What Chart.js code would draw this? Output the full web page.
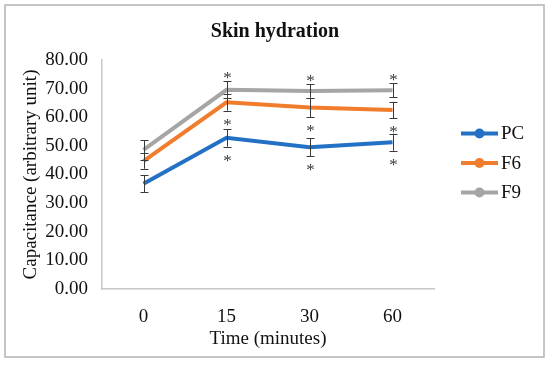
<!DOCTYPE html>
<html>
<head>
<meta charset="utf-8">
<script src="https://cdn.jsdelivr.net/npm/chart.js@4.4.1/dist/chart.umd.min.js"></script>
<style>
  html, body { margin: 0; padding: 0; background: #fff; }
  #wrap { width: 550px; height: 366px; }
</style>
</head>
<body>
<div id="wrap"><canvas id="myChart" width="550" height="366"></canvas></div>
<script>
// time points (minutes)
const categories = ['0', '15', '30', '60'];

// mean capacitance per series
const pcValues = [36.8, 52.8, 49.5, 51.3];
const f6Values = [44.7, 65.2, 63.4, 62.5];
const f9Values = [48.6, 69.6, 69.2, 69.4];

// error bar half-length (+/-)
const pcErrors = [3.0, 3.1, 3.1, 3.0];
const f6Errors = [2.7, 2.9, 3.3, 2.9];
const f9Errors = [3.4, 3.0, 2.4, 2.5];

// significance asterisks: 'above', 'below' or ''
const pcStars = ['', 'below', 'below', 'below'];
const f6Stars = ['', 'below', 'below', 'below'];
const f9Stars = ['', 'above', 'above', 'above'];

const yTicks = [0, 10, 20, 30, 40, 50, 60, 70, 80];

const chartTitle = 'Skin hydration';
const serif = '"Liberation Serif", "Times New Roman", serif';

const errorBars = {
    id: 'errorBars',
    afterDatasetsDraw(chart) {
        const ctx = chart.ctx;
        const y = chart.scales.y;
        ctx.save();
        ctx.strokeStyle = '#3a3a3a';
        ctx.fillStyle = '#3a3a3a';
        ctx.lineWidth = 1;
        ctx.font = '17px ' + serif;
        ctx.textAlign = 'center';
        ctx.textBaseline = 'alphabetic';
        chart.data.datasets.forEach((ds, i) => {
            const meta = chart.getDatasetMeta(i);
            meta.data.forEach((pt, j) => {
                const v = ds.data[j];
                const e = ds.errors[j];
                const yTop = y.getPixelForValue(v + e);
                const yBot = y.getPixelForValue(v - e);
                const x = Math.round(pt.x) + 0.5;
                ctx.beginPath();
                ctx.moveTo(x, yTop);
                ctx.lineTo(x, yBot);
                ctx.moveTo(x - 4, Math.round(yTop) + 0.5);
                ctx.lineTo(x + 4, Math.round(yTop) + 0.5);
                ctx.moveTo(x - 4, Math.round(yBot) + 0.5);
                ctx.lineTo(x + 4, Math.round(yBot) + 0.5);
                ctx.stroke();
                const s = ds.stars[j];
                if (s === 'above') {
                    ctx.fillText('*', x, yTop + 2);
                } else if (s === 'below') {
                    ctx.fillText('*', x, yBot + 19);
                }
            });
        });
        ctx.restore();
    }
};

const sideParts = {
    id: 'sideParts',
    afterDraw(chart) {
        const ctx = chart.ctx;
        ctx.save();
        // outer frame
        ctx.strokeStyle = '#b3b3b3';
        ctx.lineWidth = 1.5;
        ctx.strokeRect(5, 5, 539, 352);
        // title
        ctx.fillStyle = '#111';
        ctx.font = 'bold 20px ' + serif;
        ctx.textAlign = 'center';
        ctx.textBaseline = 'middle';
        ctx.fillText(chartTitle, 275, 32);
        // legend
        ctx.font = '19px ' + serif;
        ctx.textAlign = 'left';
        chart.data.datasets.forEach((ds, i) => {
            const ly = 133.5 + i * 29.5;
            ctx.strokeStyle = ds.borderColor;
            ctx.lineWidth = 4;
            ctx.beginPath();
            ctx.moveTo(461, ly);
            ctx.lineTo(498, ly);
            ctx.stroke();
            ctx.fillStyle = ds.borderColor;
            ctx.beginPath();
            ctx.arc(479.5, ly, 5, 0, Math.PI * 2);
            ctx.fill();
            ctx.fillStyle = '#111';
            ctx.fillText(ds.label, 501, ly + 1);
        });
        ctx.restore();
    }
};

const ctx = document.getElementById('myChart').getContext('2d');
const myChart = new Chart(ctx, {
    type: 'line',
    data: {
        labels: categories,
        datasets: [{
            label: 'PC',
            data: pcValues,
            errors: pcErrors,
            stars: pcStars,
            borderColor: '#2271c4',
            backgroundColor: '#2271c4'
        }, {
            label: 'F6',
            data: f6Values,
            errors: f6Errors,
            stars: f6Stars,
            borderColor: '#f07c2c',
            backgroundColor: '#f07c2c'
        }, {
            label: 'F9',
            data: f9Values,
            errors: f9Errors,
            stars: f9Stars,
            borderColor: '#a5a5a5',
            backgroundColor: '#a5a5a5'
        }]
    },
    options: {
        responsive: false,
        animation: false,
        events: [],
        datasets: {
            line: {
                borderWidth: 4,
                pointRadius: 0,
                tension: 0,
                fill: false
            }
        },
        layout: {
            padding: { top: 60, right: 116, bottom: 0, left: 0 }
        },
        plugins: {
            legend: { display: false },
            tooltip: { enabled: false },
            title: { display: false }
        },
        scales: {
            x: {
                offset: true,
                afterFit(scale) { scale.height = 77; },
                grid: { display: false, drawTicks: false },
                border: { display: true, color: '#c8c8c8', width: 1.5 },
                ticks: {
                    color: '#111',
                    padding: 17,
                    font: { family: serif, size: 19 }
                },
                title: {
                    display: true,
                    text: 'Time (minutes)',
                    color: '#111',
                    font: { family: serif, size: 19 },
                    padding: { top: 0, bottom: 16 }
                }
            },
            y: {
                min: 0,
                max: 80,
                afterFit(scale) { scale.width = 102; },
                afterBuildTicks(scale) {
                    scale.ticks = yTicks.map(v => ({ value: v }));
                },
                grid: { display: false, drawTicks: false },
                border: { display: true, color: '#c8c8c8', width: 1.5 },
                ticks: {
                    color: '#111',
                    padding: 14,
                    font: { family: serif, size: 19 },
                    callback: v => Number(v).toFixed(2)
                },
                title: {
                    display: true,
                    text: 'Capacitance (arbitrary unit)',
                    color: '#111',
                    font: { family: serif, size: 19 },
                    padding: { top: 20, bottom: 0 }
                }
            }
        }
    },
    plugins: [errorBars, sideParts]
});
</script>
</body>
</html>
